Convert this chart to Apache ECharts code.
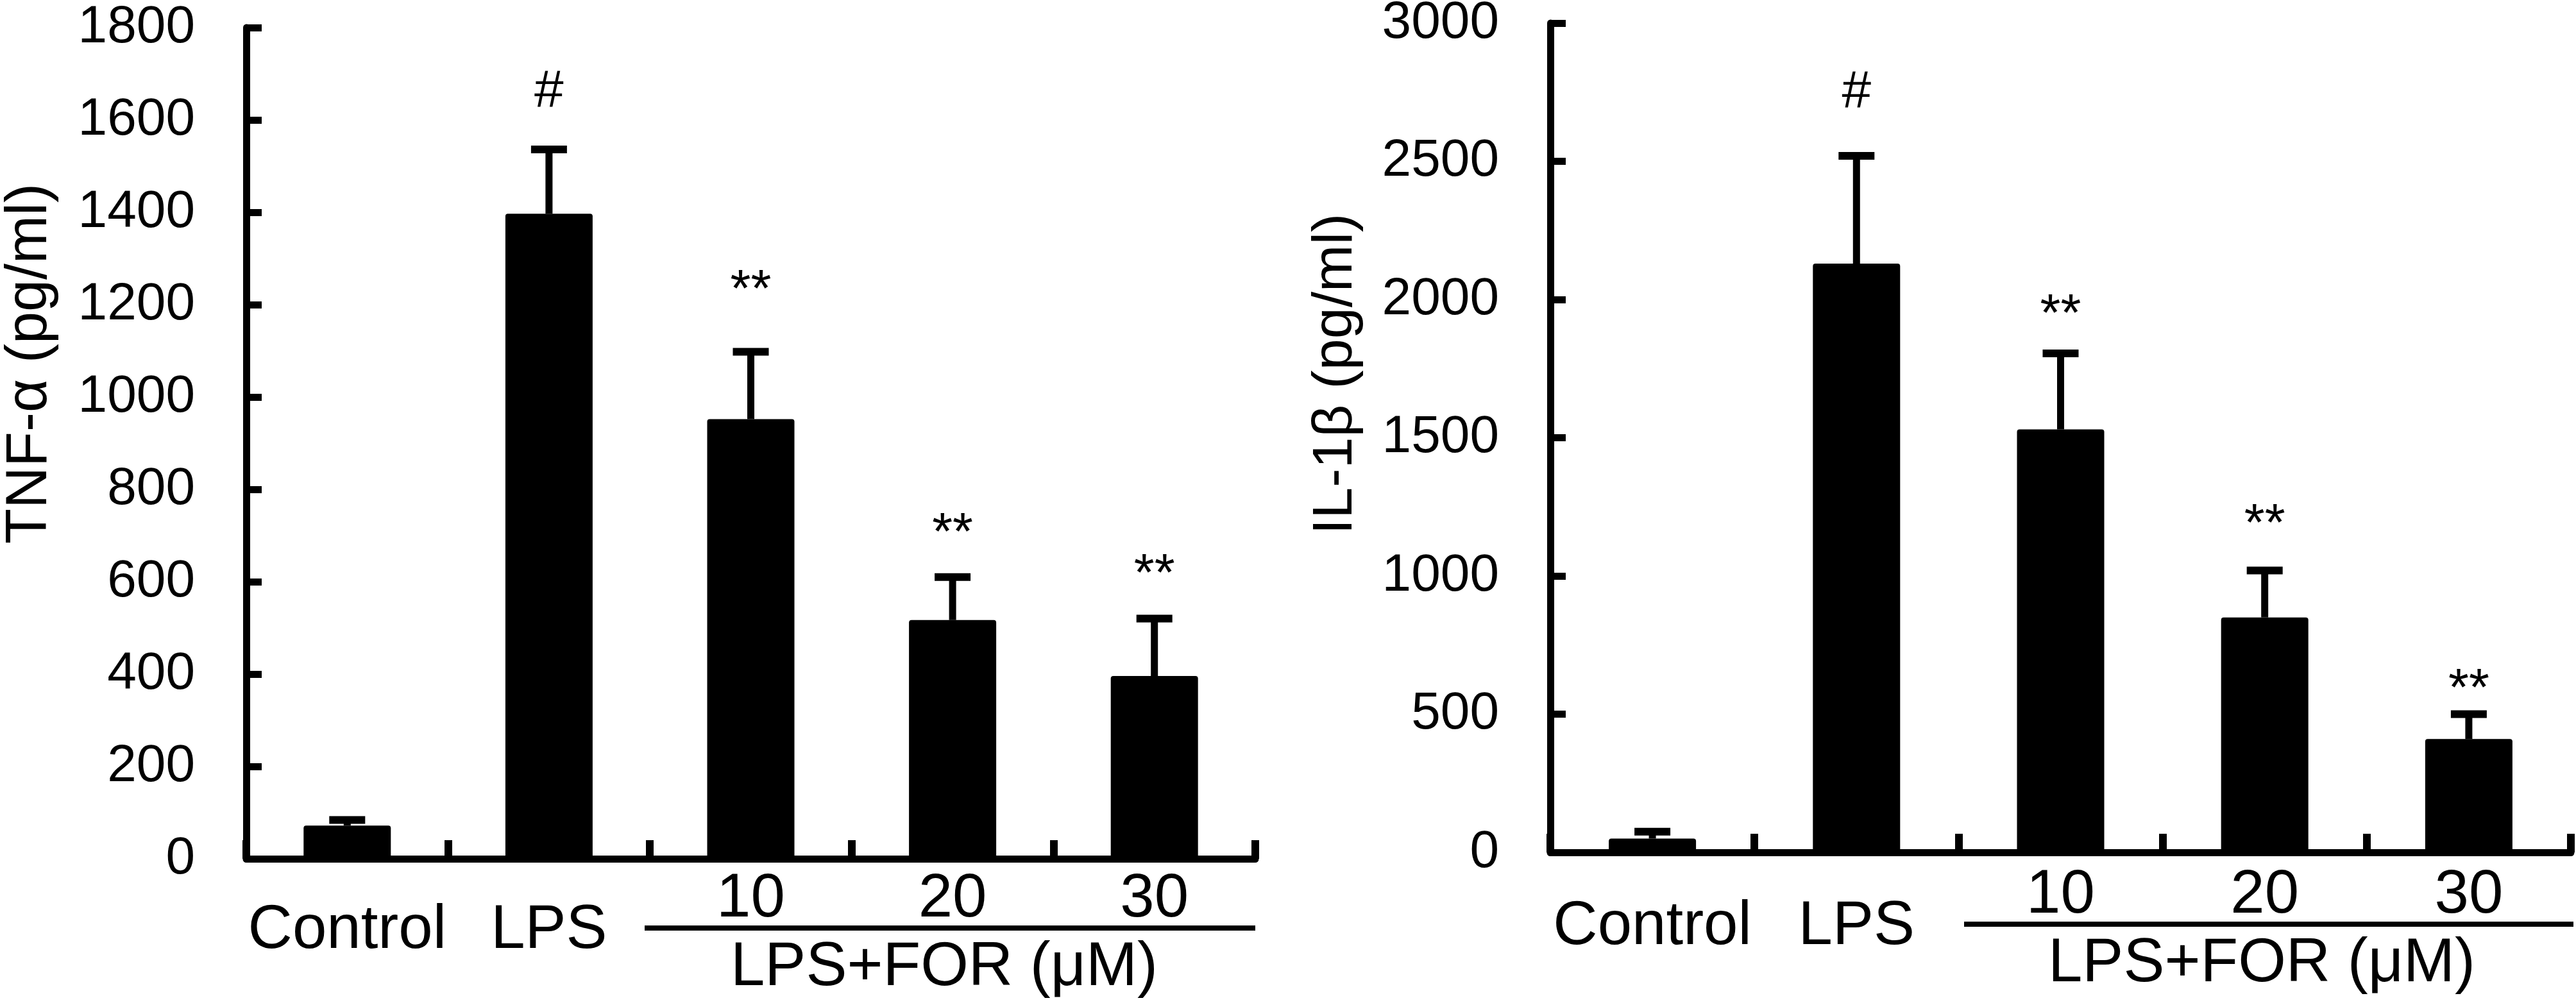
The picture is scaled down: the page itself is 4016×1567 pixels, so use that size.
<!DOCTYPE html>
<html lang="en">
<head>
    <meta charset="UTF-8">
    <title>TNF-α / IL-1β</title>
    <style>
        html, body {
            margin: 0;
            padding: 0;
            background: #fff;
        }
        #main {
            width: 4016px;
            height: 1567px;
        }
    </style>
</head>
<body>
    <div id="main"></div>
    <script src="https://cdn.jsdelivr.net/npm/echarts@6/dist/echarts.min.js"></script>
    <script>
        // groups on the x axis
        var groups = ['Control', 'LPS', '10', '20', '30'];
        var lowGroups = ['Control', 'LPS'];   // these sit one row lower

        // TNF-α (left panel)
        var tnfMean = [72, 1397, 952, 517, 396];
        var tnfErr = [12, 139, 146, 93, 124];
        var tnfSig = ['', '#', '**', '**', '**'];
        var tnfSigAt = [0, 1660, 1254, 727, 638];

        // IL-1β (right panel)
        var ilMean = [50, 2130, 1530, 850, 410];
        var ilErr = [25, 390, 275, 170, 90];
        var ilSig = ['', '#', '**', '**', '**'];
        var ilSigAt = [0, 2749, 1984, 1223, 628];

        var FONT = 'Liberation Sans, Arial, sans-serif';

        var myCharts = echarts.init(document.getElementById('main'));

        // main x axis: line, ticks and the dose labels
        function xAxisFor(idx, gap) {
            return {
                type: 'category',
                gridIndex: idx,
                position: 'bottom',
                data: groups,
                axisLine: { lineStyle: { color: '#000', width: 11 } },
                axisTick: {
                    show: true, inside: true, length: 29, interval: 0,
                    lineStyle: { color: '#000', width: 12 }
                },
                axisLabel: {
                    interval: 0,
                    margin: gap,
                    color: '#000',
                    fontFamily: FONT,
                    fontSize: 96,
                    lineHeight: 100,
                    formatter: function (v) { return lowGroups.indexOf(v) >= 0 ? '' : v; }
                },
                splitLine: { show: false }
            };
        }

        // second x axis on the same grid, only for Control / LPS
        function xLowFor(idx, gap) {
            return {
                type: 'category',
                gridIndex: idx,
                position: 'bottom',
                data: groups,
                axisLine: { show: false },
                axisTick: { show: false },
                axisLabel: {
                    interval: 0,
                    margin: gap,
                    color: '#000',
                    fontFamily: FONT,
                    fontSize: 96,
                    lineHeight: 100,
                    formatter: function (v) { return lowGroups.indexOf(v) >= 0 ? v : ''; }
                },
                splitLine: { show: false }
            };
        }

        function yAxisFor(idx, max, step) {
            return {
                type: 'value',
                gridIndex: idx,
                min: 0,
                max: max,
                interval: step,
                axisLine: { show: true, lineStyle: { color: '#000', width: 11 } },
                axisTick: { show: true, inside: true, length: 24, lineStyle: { color: '#000', width: 11 } },
                axisLabel: {
                    margin: 80, color: '#000', fontFamily: FONT, fontSize: 82,
                    formatter: function (v) { return String(v); }
                },
                splitLine: { show: false }
            };
        }

        function errSeries(idx, mean, err) {
            var data = mean.map(function (m, i) { return [i, m, m + err[i]]; });
            return {
                type: 'custom',
                xAxisIndex: idx,
                yAxisIndex: idx,
                z: 5,
                data: data,
                renderItem: function (params, api) {
                    var lo = api.coord([api.value(0), api.value(1)]);
                    var hi = api.coord([api.value(0), api.value(2)]);
                    return {
                        type: 'group',
                        children: [
                            { type: 'line', shape: { x1: lo[0], y1: lo[1], x2: hi[0], y2: hi[1] },
                              style: { stroke: '#000', lineWidth: 11 } },
                            { type: 'line', shape: { x1: hi[0] - 28, y1: hi[1], x2: hi[0] + 28, y2: hi[1] },
                              style: { stroke: '#000', lineWidth: 12 } }
                        ]
                    };
                }
            };
        }

        function sigSeries(idx, marks, at) {
            var data = at.map(function (v, i) { return [i, v]; });
            return {
                type: 'custom',
                xAxisIndex: idx,
                yAxisIndex: idx,
                z: 6,
                data: data,
                renderItem: function (params, api) {
                    var t = marks[params.dataIndex];
                    if (!t) return null;
                    var p = api.coord([api.value(0), api.value(1)]);
                    // asterisks sit high in the em box, push them down a bit
                    var dy = t.indexOf('*') >= 0 ? 18 : 0;
                    return {
                        type: 'text',
                        x: p[0], y: p[1] + dy,
                        style: {
                            text: t, fill: '#000', font: '82px ' + FONT,
                            textAlign: 'center', textVerticalAlign: 'middle'
                        }
                    };
                }
            };
        }

        function barSeries(idx, mean) {
            return {
                type: 'bar',
                xAxisIndex: idx,
                yAxisIndex: idx,
                barWidth: 136,
                itemStyle: { color: '#000', borderRadius: 4 },
                data: mean
            };
        }

        option = {
            backgroundColor: '#fff',
            animation: false,
            grid: [
                { left: 384, top: 43, width: 1573, height: 1296, containLabel: false, outerBoundsMode: 'none' },
                { left: 2417, top: 36, width: 1591, height: 1293, containLabel: false, outerBoundsMode: 'none' }
            ],
            xAxis: [xAxisFor(0, 14), xAxisFor(1, 18), xLowFor(0, 63), xLowFor(1, 67)],
            yAxis: [yAxisFor(0, 1800, 200), yAxisFor(1, 3000, 500)],
            series: [
                barSeries(0, tnfMean),
                errSeries(0, tnfMean, tnfErr),
                sigSeries(0, tnfSig, tnfSigAt),
                barSeries(1, ilMean),
                errSeries(1, ilMean, ilErr),
                sigSeries(1, ilSig, ilSigAt)
            ],
            graphic: [
                { type: 'text', x: 47, y: 567, rotation: Math.PI / 2,
                  style: { text: 'TNF-α (pg/ml)', fill: '#000', font: '90px ' + FONT,
                           textAlign: 'center', textVerticalAlign: 'middle' } },
                { type: 'text', x: 2083, y: 583, rotation: Math.PI / 2,
                  style: { text: 'IL-1β (pg/ml)', fill: '#000', font: '88px ' + FONT,
                           textAlign: 'center', textVerticalAlign: 'middle' } },
                { type: 'line', shape: { x1: 1005, y1: 1447, x2: 1957, y2: 1447 },
                  style: { stroke: '#000', lineWidth: 8 } },
                { type: 'line', shape: { x1: 3062, y1: 1441, x2: 4012, y2: 1441 },
                  style: { stroke: '#000', lineWidth: 8 } },
                { type: 'text', x: 1472, y: 1510,
                  style: { text: 'LPS+FOR (μM)', fill: '#000', font: '96px ' + FONT,
                           textAlign: 'center', textVerticalAlign: 'middle' } },
                { type: 'text', x: 3526, y: 1504,
                  style: { text: 'LPS+FOR (μM)', fill: '#000', font: '96px ' + FONT,
                           textAlign: 'center', textVerticalAlign: 'middle' } }
            ]
        };
        myCharts.setOption(option);
    </script>
</body>
</html>
